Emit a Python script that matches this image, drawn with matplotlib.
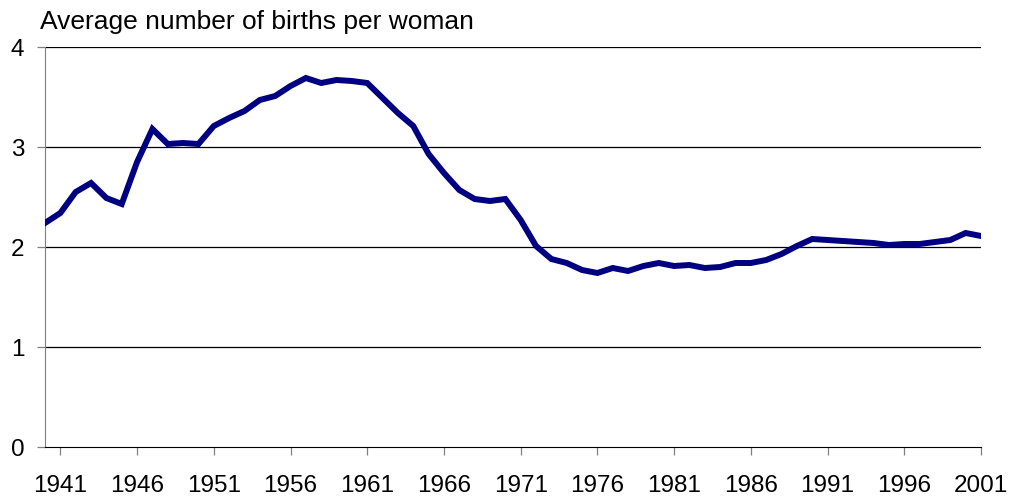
import numpy as np
import matplotlib.pyplot as plt

plt.rcParams['font.family'] = ['Liberation Sans', 'DejaVu Sans']

years = np.arange(1940, 2002)
births = [2.24, 2.34, 2.55, 2.64, 2.49, 2.43, 2.85, 3.18, 3.03, 3.04,
          3.03, 3.21, 3.29, 3.36, 3.47, 3.51, 3.61, 3.69, 3.64, 3.67,
          3.66, 3.64, 3.49, 3.34, 3.21, 2.93, 2.74, 2.57, 2.48, 2.46,
          2.48, 2.27, 2.01, 1.88, 1.84, 1.77, 1.74, 1.79, 1.76, 1.81,
          1.84, 1.81, 1.82, 1.79, 1.80, 1.84, 1.84, 1.87, 1.93, 2.01,
          2.08, 2.07, 2.06, 2.05, 2.04, 2.02, 2.03, 2.03, 2.05, 2.07,
          2.14, 2.11]
tick_years = list(range(1941, 2002, 5))

fig = plt.figure(figsize=(10.13, 5.04), dpi=100)
ax = fig.add_axes([45 / 1013, (504 - 447) / 504, (981 - 45) / 1013, 400 / 504])

for v in [1, 2, 3, 4]:
    ax.axhline(v, color='black', lw=0.9, zorder=1)
ax.plot(years, births, color='#000080', lw=4.3, solid_joinstyle='miter', zorder=3)

ax.set_xlim(1940, 2001)
ax.set_ylim(0, 4)
ax.set_yticks([0, 1, 2, 3, 4])
ax.set_xticks(tick_years)
ax.set_xticklabels([str(y) for y in tick_years])

for s in ['top', 'right']:
    ax.spines[s].set_visible(False)
ax.spines['left'].set_color('#808080')
ax.spines['bottom'].set_color('black')
ax.tick_params(axis='y', length=5.8, width=0.9, color='#808080', labelsize=17.5, pad=9)
ax.tick_params(axis='x', length=5.8, width=0.9, color='#808080', labelsize=17.5, pad=14)

fig.text(40 / 1013, 1 - 29 / 504, 'Average number of births per woman',
         fontsize=19, va='baseline', ha='left')

fig.savefig('out.png', dpi=100)
